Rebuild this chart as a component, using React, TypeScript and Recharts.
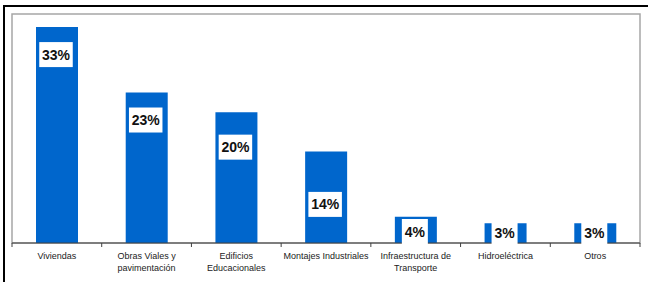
import { BarChart, Bar, XAxis, YAxis, ReferenceArea, LabelList } from "recharts";

const categories = [
  "Viviendas",
  "Obras Viales y pavimentación",
  "Edificios Educacionales",
  "Montajes Industriales",
  "Infraestructura de Transporte",
  "Hidroeléctrica",
  "Otros",
];

// how the axis labels break onto two lines
const tickLabels = [
  ["Viviendas"],
  ["Obras Viales y", "pavimentación"],
  ["Edificios", "Educacionales"],
  ["Montajes Industriales"],
  ["Infraestructura de", "Transporte"],
  ["Hidroeléctrica"],
  ["Otros"],
];

const shares = [33, 23, 20, 14, 4, 3, 3];

const data = categories.map((name, i) => ({ name, value: shares[i] }));

const W = 648;
const H = 282;
const margin = { top: 14, right: 8, left: 12, bottom: 0 };
const band = (W - margin.left - margin.right) / categories.length;

// the labels were dragged by hand in the original, small nudges per bar
const labelNudge = [0, 0, 7.5, 25.5, 0, 1.5, 1.5];

const ValueLabel = (props: any) => {
  const { x, y, width, height, value, index } = props;
  const text = `${value}%`;
  const textW = text.length === 3 ? 28 : 20.5;
  const boxW = textW + 5.5;
  const cy = Math.min(y + 27.5, y + height - 11.5) + (labelNudge[index] || 0);
  const cx = x + width / 2 - 1;
  return (
    <g>
      <rect x={cx - boxW / 2} y={cy - 12.5} width={boxW} height={25} fill="#fff" />
      <text
        x={cx}
        y={cy + 5}
        textAnchor="middle"
        fontFamily="'Liberation Sans', Arial, sans-serif"
        fontWeight="bold"
        fontSize={14}
        fill="#111"
      >
        {text}
      </text>
    </g>
  );
};

const CategoryTick = (props: any) => {
  const { x, y, index } = props;
  const lines = tickLabels[index] || [];
  const left = x - band / 2;
  return (
    <g>
      <line x1={left} x2={left} y1={y} y2={y + 4} stroke="#404040" />
      {index === categories.length - 1 && (
        <line x1={x + band / 2} x2={x + band / 2} y1={y} y2={y + 4} stroke="#404040" />
      )}
      <text
        x={x}
        y={y}
        textAnchor="middle"
        fontFamily="'Liberation Sans', Arial, sans-serif"
        fontSize={9}
        fill="#222"
      >
        {lines.map((l, i) => (
          <tspan key={i} x={x} dy={i === 0 ? 15.5 : 12.5}>
            {l}
          </tspan>
        ))}
      </text>
    </g>
  );
};

export default function App() {
  return (
    <div
      style={{
        position: "absolute",
        left: 0,
        top: 0,
        width: W,
        height: H,
        overflow: "hidden",
        background: "#fff",
      }}
    >
      <div
        style={{
          position: "absolute",
          left: 3,
          top: 5,
          width: 800,
          height: 500,
          borderLeft: "2px solid #000",
          borderTop: "2px solid #000",
        }}
      />
      <div style={{ position: "absolute", left: 0, top: 0 }}>
        <BarChart width={W} height={H} data={data} margin={margin} barCategoryGap={0}>
          <YAxis hide domain={[0, 35]} width={0} />
          <ReferenceArea
            y1={0}
            y2={35}
            fill="none"
            stroke="#a6a6a6"
            strokeWidth={1.5}
            ifOverflow="visible"
          />
          <Bar dataKey="value" fill="#0066cc" barSize={42} isAnimationActive={false}>
            <LabelList dataKey="value" content={ValueLabel} />
          </Bar>
          <XAxis
            dataKey="name"
            height={39}
            interval={0}
            tickSize={0}
            tickMargin={0}
            tickLine={false}
            axisLine={{ stroke: "#404040" }}
            tick={CategoryTick}
          />
        </BarChart>
      </div>
    </div>
  );
}
